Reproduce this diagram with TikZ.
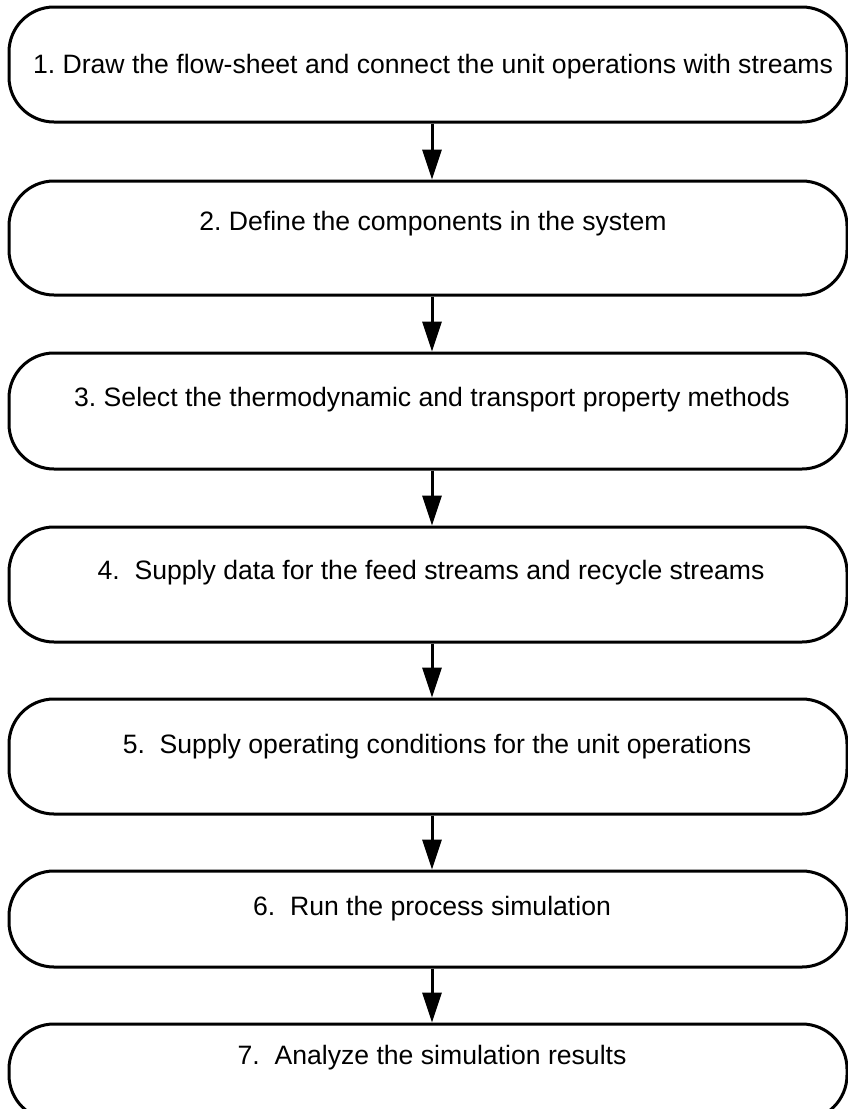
\documentclass[tikz,border=0pt]{standalone}
\usepackage{fontspec}
\setmainfont{Liberation Sans}
\usetikzlibrary{arrows.meta}
\frenchspacing
\begin{document}
\begin{tikzpicture}[x=1pt,y=-1pt,
  stepbox/.style={draw=black, line width=3pt, rounded corners=45pt,
    minimum width=838pt, inner sep=0pt},
  steptext/.style={font=\fontsize{26.6}{30}\selectfont, inner sep=0pt, anchor=center},
  flow/.style={line width=3pt, -{Triangle[width=19pt,length=30pt]}}]
\useasboundingbox (0,0) rectangle (848,1109);
\coordinate (ax) at (432,0);
% step boxes
\node[stepbox, minimum height=115pt] (b1) at (428,64.5) {};
\node[stepbox, minimum height=114pt] (b2) at (428,238) {};
\node[stepbox, minimum height=116pt] (b3) at (428,411) {};
\node[stepbox, minimum height=115pt] (b4) at (428,584.5) {};
\node[stepbox, minimum height=115pt] (b5) at (428,756.5) {};
\node[stepbox, minimum height=96pt] (b6) at (428,919) {};
\node[stepbox, minimum height=96pt] (b7) at (428,1072) {};
% step texts
\node[steptext] (t1) at (433,67) {1. Draw the flow-sheet and connect the unit operations with streams};
\node[steptext] (t2) at (433,223.5) {2. Define the components in the system};
\node[steptext] (t3) at (432,400) {3. Select the thermodynamic and transport property methods};
\node[steptext] (t4) at (431,573) {4.\ \ Supply data for the feed streams and recycle streams};
\node[steptext] (t5) at (437,747) {5.\ \ Supply operating conditions for the unit operations};
\node[steptext] (t6) at (432,909) {6.\ \ Run the process simulation};
\node[steptext] (t7) at (432,1058) {7.\ \ Analyze the simulation results};
% connectors
\draw[flow] (b1.south -| ax) -- (b2.north -| ax);
\draw[flow] (b2.south -| ax) -- (b3.north -| ax);
\draw[flow] (b3.south -| ax) -- (b4.north -| ax);
\draw[flow] (b4.south -| ax) -- (b5.north -| ax);
\draw[flow] (b5.south -| ax) -- (b6.north -| ax);
\draw[flow] (b6.south -| ax) -- (b7.north -| ax);
\end{tikzpicture}
\end{document}
